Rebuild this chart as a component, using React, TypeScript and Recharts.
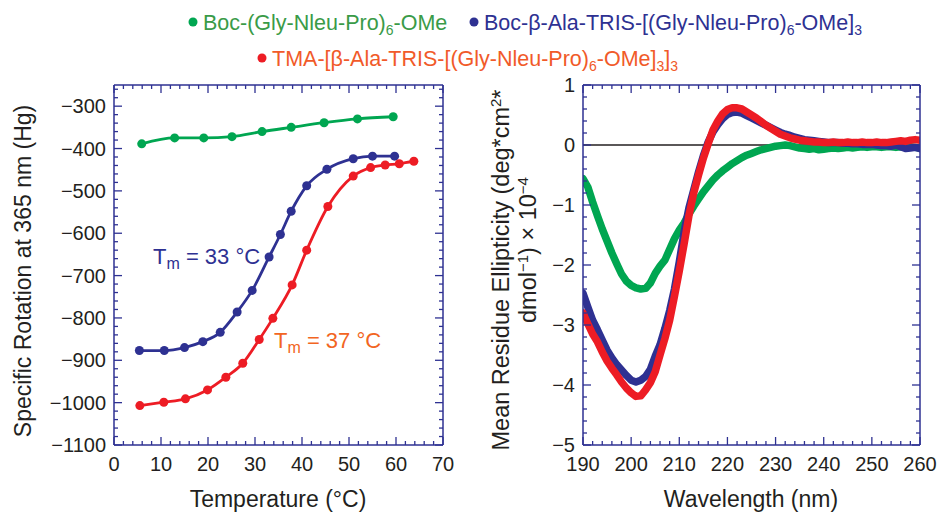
import React from 'react';
import { LineChart, Line, XAxis, YAxis, ReferenceLine } from 'recharts';

const FONT = '"Liberation Sans", Arial, Helvetica, sans-serif';
const FRAME = '#2e3192';
const INK = '#231f20';
const GREEN = '#00a651';
const BLUE = '#2e3192';
const RED = '#ed1c24';

// left panel: specific rotation (365 nm) vs temperature
const monoTemp = [5.9, 12.9, 19.1, 25.1, 31.5, 37.7, 44.7, 51.8, 59.4];
const monoRot = [-389, -375, -375, -372, -360, -350, -339, -330, -325];
const trimerTemp = [5.4, 10.7, 15, 18.9, 22.6, 26.2, 29.4, 33, 35.4, 37.7, 41, 45.3, 50.9, 55, 59.7];
const trimerRot = [-877, -877, -870, -856, -834, -786, -735, -656, -603, -548, -488, -449, -424, -418, -418];
const tmaTemp = [5.5, 10.6, 15.2, 19.9, 23.8, 27.4, 30.9, 33.8, 37.9, 41, 45.5, 50.9, 54.6, 57.7, 60.7, 63.8];
const tmaRot = [-1007, -999, -991, -970, -940, -907, -851, -801, -722, -640, -537, -465, -445, -439, -436, -430];

// right panel: CD spectra, one value per nm from 190 to 260
const wavelengths = Array.from({ length: 71 }, (_, i) => 190 + i);
const monoCD = [
  -0.56, -0.7, -0.95, -1.18, -1.4, -1.6, -1.8, -1.98, -2.15, -2.27,
  -2.34, -2.38, -2.4, -2.39, -2.3, -2.14, -2.02, -1.92, -1.74, -1.56,
  -1.42, -1.3, -1.15, -1.02, -0.9, -0.78, -0.68, -0.58, -0.5, -0.43,
  -0.37, -0.31, -0.26, -0.21, -0.17, -0.14, -0.11, -0.08, -0.06, -0.04,
  -0.02, -0.01, 0.0, -0.01, -0.03, -0.05, -0.06, -0.07, -0.06, -0.08,
  -0.07, -0.06, -0.05, -0.06, -0.05, -0.04, -0.05, -0.04, -0.03, -0.04,
  -0.03, -0.03, -0.04, -0.03, -0.03, -0.04, -0.03, -0.04, -0.03, -0.04,
  -0.05,
];
const trimerCD = [
  -2.47, -2.7, -2.92, -3.08, -3.25, -3.42, -3.55, -3.66, -3.75, -3.84,
  -3.92, -3.95, -3.92, -3.86, -3.74, -3.52, -3.33, -3.06, -2.76, -2.4,
  -1.95, -1.45, -1.05, -0.75, -0.45, -0.18, 0.05, 0.22, 0.34, 0.44,
  0.51, 0.54, 0.55, 0.53, 0.49, 0.45, 0.41, 0.37, 0.33, 0.29,
  0.25, 0.21, 0.18, 0.16, 0.13, 0.11, 0.09, 0.08, 0.07, 0.06,
  0.05, 0.04, 0.04, 0.04, 0.03, 0.03, 0.02, 0.02, 0.01, 0.01,
  0.01, 0.0, -0.01, -0.01, -0.02, 0.0, -0.03, -0.06, -0.05, -0.04,
  -0.06,
];
const tmaCD = [
  -2.8, -2.98, -3.15, -3.28, -3.45, -3.6, -3.72, -3.83, -3.95, -4.05,
  -4.13, -4.19, -4.18, -4.08, -3.96, -3.78, -3.5, -3.23, -2.92, -2.52,
  -2.1, -1.65, -1.18, -0.8, -0.5, -0.22, 0.02, 0.25, 0.4, 0.52,
  0.59, 0.62, 0.62, 0.6, 0.55, 0.5, 0.45, 0.39, 0.33, 0.28,
  0.23, 0.18, 0.15, 0.12, 0.1, 0.08, 0.07, 0.06, 0.05, 0.05,
  0.04, 0.04, 0.05, 0.04, 0.04, 0.05, 0.04, 0.04, 0.05, 0.04,
  0.04, 0.05, 0.04, 0.04, 0.05, 0.06, 0.07, 0.06, 0.08, 0.09,
  0.08,
];

// tick labels
const tempLabels = [0, 10, 20, 30, 40, 50, 60, 70];
const rotLabels = [-1100, -1000, -900, -800, -700, -600, -500, -400, -300];
const waveLabels = [190, 200, 210, 220, 230, 240, 250, 260];
const cdLabels = [-5, -4, -3, -2, -1, 0, 1];

const steps = (a: number, b: number, s: number) => {
  const out: number[] = [];
  for (let v = a; v <= b + 1e-9; v += s) out.push(Math.round(v * 100) / 100);
  return out;
};
const tempTicks = steps(0, 70, 2);
const rotTicks = steps(-1100, -260, 20);
const waveTicks = steps(190, 260, 2);
const cdTicks = steps(-5, 1, 0.2);

const zip = (xs: number[], ys: number[]) => xs.map((x, i) => ({ x, y: ys[i] }));
const fmt = (v: number) => (v < 0 ? '\u2212' + Math.abs(v) : String(v));

type Side = 'bottom' | 'top' | 'left' | 'right';

const makeTick = (side: Side, labels: number[]) => (props: any) => {
  const { x, y, payload } = props;
  const v = payload.value;
  const major = labels.some((l) => Math.abs(l - v) < 1e-6);
  const len = major ? 8 : 4;
  let x2 = x;
  let y2 = y;
  if (side === 'bottom') y2 = y - len;
  if (side === 'top') y2 = y + len;
  if (side === 'left') x2 = x + len;
  if (side === 'right') x2 = x - len;
  return (
    <g>
      <line x1={x} y1={y} x2={x2} y2={y2} stroke={FRAME} strokeWidth={1.3} />
      {major && side === 'bottom' && (
        <text x={x} y={y + 26} textAnchor="middle" fontSize={20} fill={INK} fontFamily={FONT}>
          {fmt(v)}
        </text>
      )}
      {major && side === 'left' && (
        <text x={x - 8} y={y + 7} textAnchor="end" fontSize={20} fill={INK} fontFamily={FONT}>
          {fmt(v)}
        </text>
      )}
    </g>
  );
};

const axisLine = { stroke: FRAME, strokeWidth: 1.5 };

// axes get a 1px band (a 0px axis is not drawn at all)
const frameAxes = (xDom: number[], xTicks: number[], xLab: number[], yDom: number[], yTicks: number[], yLab: number[]) => [
  <XAxis key="xb" xAxisId="b" type="number" dataKey="x" domain={xDom} allowDataOverflow ticks={xTicks} interval={0}
    orientation="bottom" height={1} tickSize={0} tickMargin={0} tickLine={false} axisLine={axisLine} tick={makeTick('bottom', xLab)} />,
  <XAxis key="xt" xAxisId="t" type="number" dataKey="x" domain={xDom} allowDataOverflow ticks={xTicks} interval={0}
    orientation="top" height={1} tickSize={0} tickMargin={0} tickLine={false} axisLine={axisLine} tick={makeTick('top', xLab)} />,
  <YAxis key="yl" yAxisId="l" type="number" dataKey="y" domain={yDom} allowDataOverflow ticks={yTicks} interval={0}
    orientation="left" width={1} tickSize={0} tickMargin={0} tickLine={false} axisLine={axisLine} tick={makeTick('left', yLab)} />,
  <YAxis key="yr" yAxisId="r" type="number" dataKey="y" domain={yDom} allowDataOverflow ticks={yTicks} interval={0}
    orientation="right" width={1} tickSize={0} tickMargin={0} tickLine={false} axisLine={axisLine} tick={makeTick('right', yLab)} />,
];

const dot = (c: string) => ({ r: 4.5, fill: c, stroke: c, strokeWidth: 0 });

const RotationPanel = () => (
  <LineChart width={460} height={512} margin={{ top: 84, right: 16, bottom: 66, left: 113 }}
    style={{ position: 'absolute', left: 0, top: 0 }}>
    {frameAxes([0, 70], tempTicks, tempLabels, [-1100, -250], rotTicks, rotLabels)}
    <Line xAxisId="t" yAxisId="r" data={zip(monoTemp, monoRot)} dataKey="y" type="monotone" stroke={GREEN}
      strokeWidth={2.8} dot={dot(GREEN)} isAnimationActive={false} />
    <Line xAxisId="b" yAxisId="l" data={zip(trimerTemp, trimerRot)} dataKey="y" type="monotone" stroke={BLUE}
      strokeWidth={2.8} dot={dot(BLUE)} isAnimationActive={false} />
    <Line xAxisId="b" yAxisId="l" data={zip(tmaTemp, tmaRot)} dataKey="y" type="monotone" stroke={RED}
      strokeWidth={2.8} dot={dot(RED)} isAnimationActive={false} />
  </LineChart>
);

const CDPanel = () => (
  <LineChart width={478} height={512} margin={{ top: 84, right: 17, bottom: 66, left: 122 }}
    style={{ position: 'absolute', left: 460, top: 0 }}>
    {frameAxes([190, 260], waveTicks, waveLabels, [-5, 1], cdTicks, cdLabels)}
    <ReferenceLine xAxisId="b" yAxisId="l" y={0} stroke={INK} strokeWidth={1.5} />
    <Line xAxisId="t" yAxisId="r" data={zip(wavelengths, monoCD)} dataKey="y" type="linear" stroke={GREEN}
      strokeWidth={7.5} strokeLinejoin="round" strokeLinecap="round" dot={false} isAnimationActive={false} />
    <Line xAxisId="b" yAxisId="l" data={zip(wavelengths, trimerCD)} dataKey="y" type="linear" stroke={BLUE}
      strokeWidth={7.5} strokeLinejoin="round" strokeLinecap="round" dot={false} isAnimationActive={false} />
    <Line xAxisId="b" yAxisId="l" data={zip(wavelengths, tmaCD)} dataKey="y" type="linear" stroke={RED}
      strokeWidth={7.5} strokeLinejoin="round" strokeLinecap="round" dot={false} isAnimationActive={false} />
  </LineChart>
);

const sub = { fontSize: 14 };

const Labels = () => (
  <svg width={938} height={512} style={{ position: 'absolute', left: 0, top: 0, pointerEvents: 'none' }}
    fontFamily={FONT}>
    {/* legend */}
    <circle cx={193} cy={22} r={4.5} fill={GREEN} />
    <text x={203} y={30} fontSize={21.5} fill="#3a9b48">
      Boc-(Gly-Nleu-Pro)<tspan dy={5} style={sub}>6</tspan><tspan dy={-5}>-OMe</tspan>
    </text>
    <circle cx={474} cy={22} r={4.5} fill={BLUE} />
    <text x={484} y={30} fontSize={21.5} fill={BLUE}>
      Boc-β-Ala-TRIS-[(Gly-Nleu-Pro)<tspan dy={5} style={sub}>6</tspan><tspan dy={-5}>-OMe]</tspan>
      <tspan dy={5} style={sub}>3</tspan>
    </text>
    <circle cx={262} cy={58} r={4.5} fill={RED} />
    <text x={272} y={66} fontSize={21.5} fill="#f15a29">
      TMA-[β-Ala-TRIS-[(Gly-Nleu-Pro)<tspan dy={5} style={sub}>6</tspan><tspan dy={-5}>-OMe]</tspan>
      <tspan dy={5} style={sub}>3</tspan><tspan dy={-5}>]</tspan><tspan dy={5} style={sub}>3</tspan>
    </text>

    {/* annotations */}
    <text x={153} y={264} fontSize={22} fill={BLUE}>
      T<tspan dy={5} style={{ fontSize: 16 }}>m</tspan><tspan dy={-5}> = 33 °C</tspan>
    </text>
    <text x={274} y={348} fontSize={22} fill="#f26522">
      T<tspan dy={5} style={{ fontSize: 16 }}>m</tspan><tspan dy={-5}> = 37 °C</tspan>
    </text>

    {/* axis titles */}
    <text x={278} y={507} fontSize={23} fill={INK} textAnchor="middle">Temperature (°C)</text>
    <text x={751} y={507} fontSize={23} fill={INK} textAnchor="middle">Wavelength (nm)</text>
    <text x={31} y={271} fontSize={23} fill={INK} textAnchor="middle" transform="rotate(-90 31 271)">
      Specific Rotation at 365 nm (Hg)
    </text>
    <text x={509} y={270} fontSize={23.5} fill={INK} textAnchor="middle" transform="rotate(-90 509 270)">
      Mean Residue Ellipticity (deg*cm<tspan dy={-8} style={{ fontSize: 15 }}>2</tspan><tspan dy={8}>*</tspan>
    </text>
    <text x={536} y={250} fontSize={23.5} fill={INK} textAnchor="middle" transform="rotate(-90 536 250)">
      dmol<tspan dy={-8} style={{ fontSize: 15 }}>−1</tspan><tspan dy={8}>) × 10</tspan>
      <tspan dy={-8} style={{ fontSize: 15 }}>−4</tspan>
    </text>
  </svg>
);

export default function App() {
  return (
    <div style={{ position: 'absolute', left: 0, top: 0, width: 938, height: 512, background: '#fff' }}>
      <RotationPanel />
      <CDPanel />
      <Labels />
    </div>
  );
}
